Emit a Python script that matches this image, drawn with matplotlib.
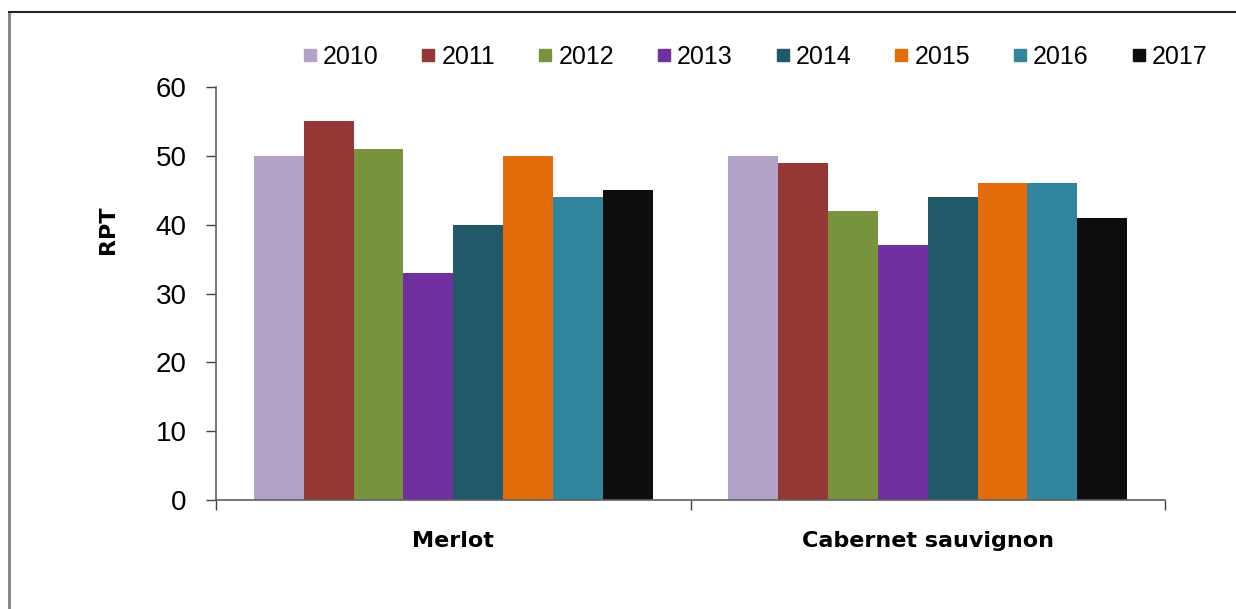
import matplotlib
matplotlib.use("Agg")
import matplotlib.pyplot as plt
import numpy as np
from matplotlib.lines import Line2D

categories = ["Merlot", "Cabernet sauvignon"]
years = ["2010", "2011", "2012", "2013", "2014", "2015", "2016", "2017"]
values = {
    "2010": [50, 50],
    "2011": [55, 49],
    "2012": [51, 42],
    "2013": [33, 37],
    "2014": [40, 44],
    "2015": [50, 46],
    "2016": [44, 46],
    "2017": [45, 41],
}
colors = ["#B3A2C7", "#953735", "#77933C", "#7030A0", "#215968", "#E46C0A", "#31859C", "#0D0D0D"]
yticks = [0, 10, 20, 30, 40, 50, 60]

fig = plt.figure(figsize=(12.36, 6.09), dpi=100)
ax = fig.add_axes([216/1236, 1-500/609, (1165-216)/1236, (500-87)/609])

x = np.arange(len(categories))
n = len(years)
w = 0.84 / n
for i, (yr, c) in enumerate(zip(years, colors)):
    ax.bar(x - 0.42 + w*(i+0.5), values[yr], width=w, color=c, label=yr, zorder=2)

ax.set_xlim(-0.5, len(categories)-0.5)
ax.set_ylim(0, 60)
ax.set_yticks(yticks)
ax.set_yticklabels([str(t) for t in yticks], fontsize=20, family="Liberation Sans")
ax.tick_params(axis="y", direction="out", length=7, width=1, color="#404040", pad=14)
ax.set_xticks(np.arange(len(categories)+1) - 0.5)
ax.set_xticklabels([])
ax.tick_params(axis="x", which="major", direction="out", length=7, width=1, color="#404040")
ax.set_xticks(x, minor=True)
ax.set_xticklabels(categories, minor=True, fontsize=16, fontweight="bold", family="DejaVu Sans")
ax.tick_params(axis="x", which="minor", length=0, pad=22)
for s in ["top", "right"]:
    ax.spines[s].set_visible(False)
for s in ["left", "bottom"]:
    ax.spines[s].set_color("#606060")
    ax.spines[s].set_linewidth(1.2)
ax.set_ylabel("RPT", fontsize=16, fontweight="bold", family="DejaVu Sans")
ax.yaxis.set_label_coords(-0.103, 0.654)

handles = [Line2D([], [], marker="s", linestyle="none", markersize=9, markerfacecolor=c,
                  markeredgecolor=c) for c in colors]
fig.legend(handles, years, ncol=8, loc="center", bbox_to_anchor=(755/1236, 1-57/609),
           frameon=False, prop={"family": "Liberation Sans", "size": 18},
           handlelength=0.55, handletextpad=0.25, columnspacing=1.72)

fig.add_artist(Line2D([9/1236, 9/1236], [0, 1-12/609], transform=fig.transFigure, color="#808080", lw=2))
fig.add_artist(Line2D([9/1236, 1], [1-12/609, 1-12/609], transform=fig.transFigure, color="#222222", lw=1.5))

fig.savefig("out.png", dpi=100)
